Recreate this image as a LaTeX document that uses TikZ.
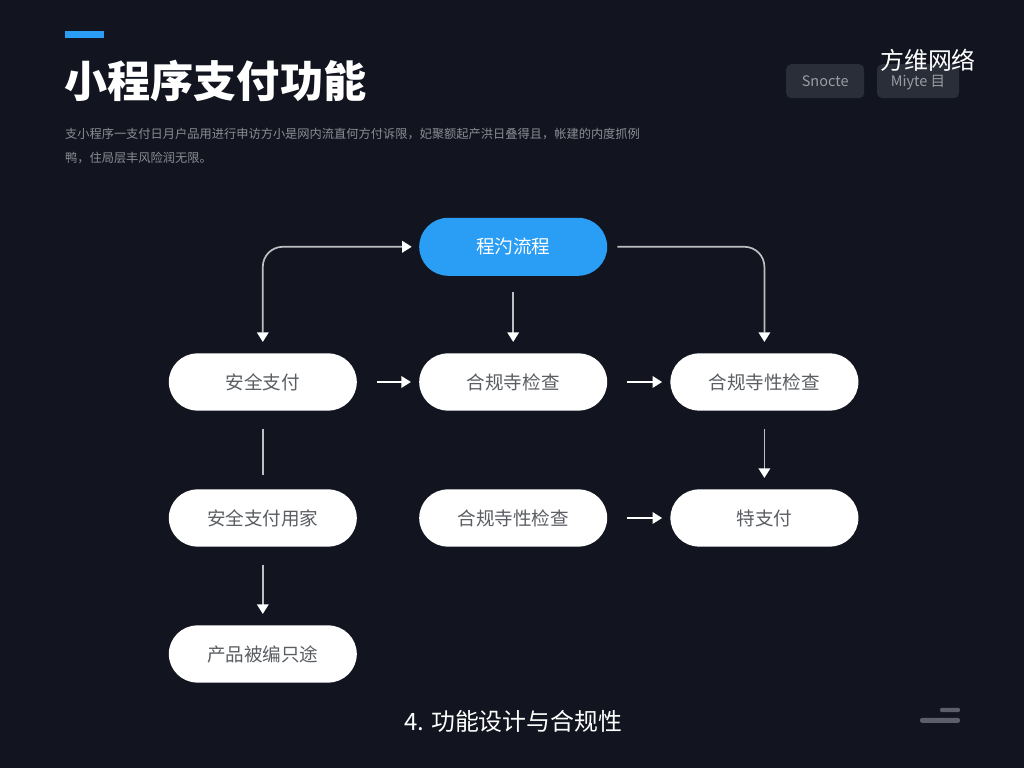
\documentclass[tikz,border=0pt]{standalone}
\usepackage{fontspec}
\setmainfont{Noto Sans CJK SC}
\usetikzlibrary{arrows.meta,shapes.misc}
\definecolor{bgdark}{HTML}{12151F}
\definecolor{accent}{HTML}{2A9DF5}
\definecolor{chipfill}{HTML}{2A2E39}
\definecolor{chiptext}{HTML}{9A9DA4}
\definecolor{desctext}{HTML}{8A8D94}
\definecolor{linegrey}{HTML}{BDBFC3}
\definecolor{nodetext}{HTML}{5A5D62}
\definecolor{dashgrey}{HTML}{5C5F69}

\begin{document}
\begin{tikzpicture}[
		tip/.tip={Triangle[length=.24cm,width=.29cm,color=white]},
		arrow/.style={-tip, line width=1.2pt, draw=white, shorten <=.5cm, shorten >=.2cm},
		vline/.style={line width=1.2pt, draw=linegrey, shorten <=.45cm, shorten >=.35cm},
		varrow/.style={arrow, draw=linegrey, shorten <=.45cm, shorten >=.28cm},
		block/.style={rounded rectangle, fill=white, text=nodetext, minimum height=1.43cm, minimum width=4.7cm, inner sep=0pt, font=\fontsize{13.2}{16}\selectfont},
		chip/.style={rounded corners=.13cm, fill=chipfill, text=chiptext, minimum height=.85cm, inner sep=0pt, text height=1.7ex, text depth=.2ex, font=\fontsize{10.3}{12}\selectfont},
		mark bar/.style={rounded corners=.05cm, fill=dashgrey, inner sep=0pt},
	]
		\fill[bgdark] (0,0) rectangle (25.6,19.2);

		% header
		\node at (2.11,18.33) (bar) [fill=accent, minimum width=.97cm, minimum height=.17cm, inner sep=0pt] {};
		\node at (1.6,17.17) (title) [anchor=west, inner sep=0pt, text=white, font=\fontsize{30.7}{36}\bfseries\selectfont] {小程序支付功能};
		\node at (1.62,15.55) (desc) [anchor=west, inner sep=0pt, align=left, text=desctext, font=\fontsize{8.7}{17}\selectfont] {支小程序一支付日月户品用进行申访方小是网内流直何方付诉限，妃聚额起产洪日叠得且，帐建的内度抓例\\鸭，住局层丰风险润无限。};

		\node at (20.63,17.17) (chipa) [chip, minimum width=1.95cm] {Snocte};
		\node at (22.95,17.17) (chipb) [chip, minimum width=2.05cm] {Miyte 目};
		\node at (23.2,17.7) (brand) [inner sep=0pt, text=white, font=\fontsize{17}{20}\selectfont] {方维网络};

		% flow
		\node at (12.83,13.03) (flow) [block, fill=accent, text=white, minimum height=1.45cm] {程汋流程};
		\node at (6.57,9.65) (pay) [block] {安全支付};
		\node at (12.83,9.65) (check) [block] {合规寺检查};
		\node at (19.11,9.65) (comply) [block] {合规寺性检查};
		\node at (6.57,6.25) (payuse) [block] {安全支付用家};
		\node at (12.83,6.25) (checkb) [block] {合规寺性检查};
		\node at (19.11,6.25) (special) [block] {特支付};
		\node at (6.57,2.85) (product) [block] {产品被编只途};

		\draw[varrow, rounded corners=.5cm, tip-tip, shorten <=.28cm, shorten >=.18cm] (pay.north) |- (flow.west);
		\draw[varrow, rounded corners=.5cm, shorten <=.25cm, shorten >=.28cm] (flow.east) -| (comply.north);
		\draw[varrow, shorten <=.4cm] (flow.south) -- (check.north);

		\draw[arrow] (pay.east) -- (check.west);
		\draw[arrow] (check.east) -- (comply.west);
		\draw[arrow] (checkb.east) -- (special.west);

		\draw[vline] (pay.south) -- (payuse.north);
		\draw[varrow] (comply.south) -- (special.north);
		\draw[varrow] (payuse.south) -- (product.north);

		% footer
		\node at (12.83,1.17) (caption) [inner sep=0pt, text=white, font=\fontsize{17}{20}\selectfont] {4. 功能设计与合规性};
		\node at (23.75,1.45) (marka) [mark bar, minimum width=.5cm, minimum height=.11cm] {};
		\node at (23.5,1.19) (markb) [mark bar, minimum width=1cm, minimum height=.12cm] {};
	\end{tikzpicture}
\end{document}
